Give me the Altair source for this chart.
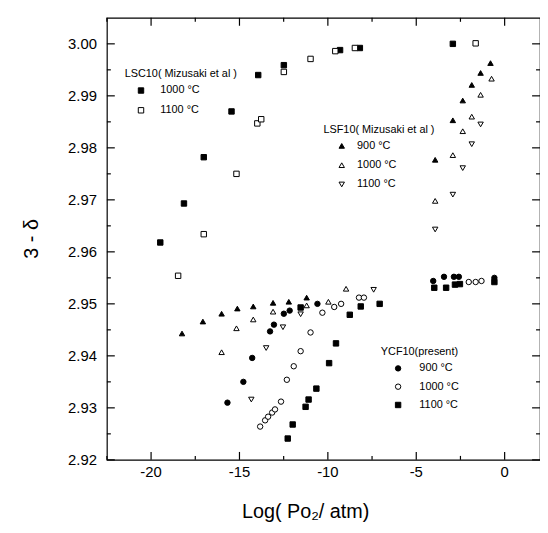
import altair as alt
import pandas as pd

FONT = "Liberation Sans"

# ---------------- data ----------------
# LSC10 (Mizusaki et al.)
lsc1000_x = [-19.48, -18.14, -17.02, -15.45, -13.94, -12.49, -9.31, -8.19, -2.93]
lsc1000_y = [2.9618, 2.9693, 2.9782, 2.9870, 2.9940, 2.9959, 2.9988, 2.9992, 3.0000]
lsc1100_x = [-18.47, -17.02, -15.17, -13.99, -13.77, -12.49, -10.98, -9.58, -8.47, -1.64]
lsc1100_y = [2.9554, 2.9634, 2.9750, 2.9847, 2.9855, 2.9946, 2.9971, 2.9986, 2.9992, 3.0001]
# LSF10 (Mizusaki et al.)
lsf900_x = [-18.25, -17.07, -16.01, -15.12, -14.22, -13.10, -12.21, -11.20,
            -3.93, -2.93, -2.37, -1.86, -1.36, -0.80]
lsf900_y = [2.9443, 2.9466, 2.9481, 2.9491, 2.9495, 2.9502, 2.9504, 2.9512,
            2.9777, 2.9853, 2.9891, 2.9921, 2.9944, 2.9963]
lsf1000_x = [-16.01, -15.17, -14.22, -13.10, -11.20, -9.97, -8.97,
             -3.93, -2.93, -2.37, -1.86, -1.36, -0.74]
lsf1000_y = [2.9407, 2.9453, 2.9470, 2.9485, 2.9497, 2.9504, 2.9529,
             2.9698, 2.9786, 2.9832, 2.9860, 2.9902, 2.9933]
lsf1100_x = [-14.33, -13.49, -12.54, -11.54, -7.41, -3.93, -2.93, -2.37, -1.86, -1.36]
lsf1100_y = [2.9316, 2.9415, 2.9455, 2.9480, 2.9527, 2.9643, 2.9710, 2.9761, 2.9807, 2.9845]
# YCF10 (present)
ycf900_x = [-15.68, -14.78, -14.28, -13.27, -13.05, -12.49, -12.16, -10.59,
            -4.04, -3.43, -2.87, -2.59, -0.58]
ycf900_y = [2.9310, 2.9350, 2.9396, 2.9447, 2.9460, 2.9481, 2.9487, 2.9500,
            2.9544, 2.9552, 2.9552, 2.9552, 2.9550]
ycf1000_x = [-13.83, -13.55, -13.38, -13.15, -12.99, -12.65, -12.32, -11.93, -11.54,
             -10.98, -10.31, -9.64, -9.25, -8.24, -7.96, -2.03, -1.64, -1.31]
ycf1000_y = [2.9264, 2.9276, 2.9283, 2.9291, 2.9297, 2.9312, 2.9354, 2.9380, 2.9409,
             2.9445, 2.9483, 2.9494, 2.9500, 2.9512, 2.9512, 2.9542, 2.9542, 2.9544]
ycf1100_x = [-12.27, -11.99, -11.26, -11.09, -10.65, -9.93, -9.54, -8.76, -8.14, -7.07,
             -11.54, -3.98, -3.31, -2.81, -2.53, -0.58]
ycf1100_y = [2.9241, 2.9268, 2.9302, 2.9316, 2.9337, 2.9386, 2.9424, 2.9479, 2.9495, 2.9500,
             2.9493, 2.9531, 2.9531, 2.9537, 2.9538, 2.9542]

lsc_labels = ["1000 °C", "1100 °C"]
lsc_shapes = ["square", "square"]
lsc_fills = ["black", "white"]
lsf_labels = ["900 °C", "1000 °C", "1100 °C"]
lsf_shapes = ["triangle-up", "triangle-up", "triangle-down"]
lsf_fills = ["black", "white", "white"]
ycf_labels = ["900 °C", "1000 °C", "1100 °C"]
ycf_shapes = ["circle", "circle", "square"]
ycf_fills = ["black", "white", "black"]

x_major = [-20, -15, -10, -5, 0]
x_tick_labels = ["-20", "-15", "-10", "-5", "0"]
x_minor = [-22.5, -17.5, -12.5, -7.5, -2.5]
y_major = [2.92, 2.93, 2.94, 2.95, 2.96, 2.97, 2.98, 2.99, 3.00]
y_tick_labels = ["2.92", "2.93", "2.94", "2.95", "2.96", "2.97", "2.98", "2.99", "3.00"]
y_minor = [2.925, 2.935, 2.945, 2.955, 2.965, 2.975, 2.985, 2.995]

x_title = "Log( Po\u2082/ atm)"
y_title = "3 - \u03b4"

W, H = 438, 447
MAJOR, MINOR = 8, 4


def frame(xs, ys, label):
    return pd.DataFrame({"x": xs, "y": ys, "label": label})


lsc_df = pd.concat([frame(lsc1000_x, lsc1000_y, lsc_labels[0]),
                    frame(lsc1100_x, lsc1100_y, lsc_labels[1])])
lsf_df = pd.concat([frame(lsf900_x, lsf900_y, lsf_labels[0]),
                    frame(lsf1000_x, lsf1000_y, lsf_labels[1]),
                    frame(lsf1100_x, lsf1100_y, lsf_labels[2])])
ycf_df = pd.concat([frame(ycf900_x, ycf900_y, ycf_labels[0]),
                    frame(ycf1000_x, ycf1000_y, ycf_labels[1]),
                    frame(ycf1100_x, ycf1100_y, ycf_labels[2])])

xs = alt.Scale(domain=[-22.5, 2.0], nice=False, zero=False)
ys = alt.Scale(domain=[2.92, 3.005], nice=False, zero=False)


def legend(title, lx, ly, sym_off, lab_off, row_pad):
    return alt.Legend(orient="none", legendX=lx, legendY=ly, title=title,
                      titleFont=FONT, titleFontSize=11, titleFontWeight="normal",
                      titleColor="black", titlePadding=6, labelFont=FONT,
                      labelFontSize=11, labelColor="black", symbolSize=30,
                      symbolStrokeWidth=1,
                      symbolOffset=sym_off, labelOffset=lab_off, rowPadding=row_pad,
                      padding=0)


def group(df, labels, shapes, fills, leg):
    return alt.Chart(df).mark_point(filled=True, strokeWidth=1,
                                    size=30, opacity=1).encode(
        x=alt.X("x:Q", scale=xs, axis=None),
        y=alt.Y("y:Q", scale=ys, axis=None),
        shape=alt.Shape("label:N", scale=alt.Scale(domain=labels, range=shapes), legend=leg),
        fill=alt.Fill("label:N", scale=alt.Scale(domain=labels, range=fills), legend=leg),
        stroke=alt.Stroke("label:N",
                          scale=alt.Scale(domain=labels, range=["black"] * len(labels)),
                          legend=leg),
    )


lsc = group(lsc_df, lsc_labels, lsc_shapes, lsc_fills,
            legend("LSC10( Mizusaki et al )", 18, 51, 11, 14, 8))
lsf = group(lsf_df, lsf_labels, lsf_shapes, lsf_fills,
            legend("LSF10( Mizusaki et al )", 219, 107, 13, 10, 7.5))
ycf = group(ycf_df, ycf_labels, ycf_shapes, ycf_fills,
            legend("YCF10(present)", 277, 332, 12, 16, 6.5))


# inward tick marks on all four sides, positioned by the tick values through the scales
def xticks(values, length):
    df = pd.DataFrame({"v": values})
    base = alt.Chart(df).mark_tick(orient="vertical", size=length, thickness=1.2,
                                   color="black", opacity=1)
    bottom = base.encode(x=alt.X("v:Q", scale=xs, axis=None), y=alt.value(H - length / 2))
    top = base.encode(x=alt.X("v:Q", scale=xs, axis=None), y=alt.value(length / 2))
    return [bottom, top]


def yticks(values, length):
    df = pd.DataFrame({"v": values})
    base = alt.Chart(df).mark_tick(orient="horizontal", size=length, thickness=1.2,
                                   color="black", opacity=1)
    left = base.encode(y=alt.Y("v:Q", scale=ys, axis=None), x=alt.value(length / 2))
    right = base.encode(y=alt.Y("v:Q", scale=ys, axis=None), x=alt.value(W - length / 2))
    return [left, right]


tick_layers = (xticks(x_major, MAJOR) + xticks(x_minor, MINOR)
               + yticks(y_major, MAJOR) + yticks(y_minor, MINOR))

# tick labels and axis titles
xlab = alt.Chart(pd.DataFrame({"v": x_major, "t": x_tick_labels})).mark_text(
    font=FONT, fontSize=15, color="black", baseline="middle", align="center"
).encode(x=alt.X("v:Q", scale=xs, axis=None), y=alt.value(H + 12), text="t:N")
ylab = alt.Chart(pd.DataFrame({"v": y_major, "t": y_tick_labels})).mark_text(
    font=FONT, fontSize=15, color="black", baseline="middle", align="right"
).encode(y=alt.Y("v:Q", scale=ys, axis=None), x=alt.value(-10), text="t:N")
xttl = alt.Chart(pd.DataFrame({"t": [x_title]})).mark_text(
    font=FONT, fontSize=20, color="black", baseline="middle", align="center"
).encode(x=alt.value(201), y=alt.value(H + 53), text="t:N")
yttl = alt.Chart(pd.DataFrame({"t": [y_title]})).mark_text(
    font=FONT, fontSize=20, color="black", baseline="middle", align="center", angle=270
).encode(x=alt.value(-76), y=alt.value(H / 2), text="t:N")

chart = (
    alt.layer(lsc, lsf, ycf, *tick_layers, xlab, ylab, xttl, yttl)
    .resolve_scale(shape="independent", fill="independent", stroke="independent")
    .properties(width=W, height=H,
                padding={"left": 100, "top": 7, "right": 0, "bottom": 70},
                autosize=alt.AutoSizeParams(type="none"),
                background="white")
    .configure_view(stroke="black", strokeWidth=1.2)
)

chart.save("out.html", embed_options={"renderer": "svg", "actions": False})
